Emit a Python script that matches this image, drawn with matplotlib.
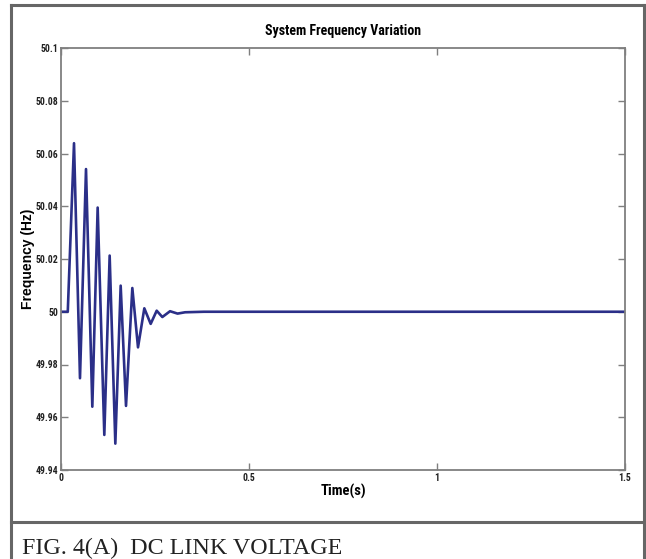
import matplotlib
matplotlib.use("Agg")
import matplotlib.pyplot as plt
from matplotlib.lines import Line2D
from matplotlib import font_manager

# Data (time in s, frequency in Hz)
time_s = [0.0, 0.018, 0.0346, 0.0505, 0.0665, 0.0833, 0.0975, 0.1152, 0.1294,
          0.1445, 0.1587, 0.1729, 0.1897, 0.2048, 0.2216, 0.2385, 0.2545,
          0.2695, 0.29, 0.31, 0.33, 0.38, 1.5]
freq_hz = [50.0, 50.0, 50.0639, 49.9748, 50.0541, 49.964, 50.0395, 49.9533,
           50.0213, 49.950, 50.0099, 49.9643, 50.009, 49.9865, 50.0013,
           49.9954, 50.0004, 49.998, 50.0002, 49.9993, 49.9998, 50.0, 50.0]

x_ticks = [0, 0.5, 1, 1.5]
x_tick_labels = ["0", "0.5", "1", "1.5"]
y_ticks = [49.94, 49.96, 49.98, 50.0, 50.02, 50.04, 50.06, 50.08, 50.1]
y_tick_labels = ["49.94", "49.96", "49.98", "50", "50.02", "50.04", "50.06", "50.08", "50.1"]

title = "System Frequency Variation"
x_label = "Time(s)"
y_label = "Frequency (Hz)"
caption = "FIG. 4(A)  DC LINK VOLTAGE"

# look for a narrow / condensed sans family if one is installed
names = sorted({f.name for f in font_manager.fontManager.ttflist})
narrow_name = None
for cand in ["Liberation Sans Narrow", "Arial Narrow", "DejaVu Sans Condensed",
             "Roboto Condensed", "Open Sans Condensed", "Noto Sans Condensed"]:
    if cand in names:
        narrow_name = cand
        break
if narrow_name is None:
    for n in names:
        if ("Narrow" in n or "Condensed" in n) and "Serif" not in n and "Mono" not in n:
            narrow_name = n
            break
has_narrow = narrow_name is not None
narrow = [narrow_name, "Liberation Sans", "DejaVu Sans"] if has_narrow else ["Liberation Sans", "DejaVu Sans"]
tick_fs = 7.0 if has_narrow else 6.3
title_fs = 10.0 if has_narrow else 9.0

W, H = 646, 559
fig = plt.figure(figsize=(W / 100, H / 100), dpi=100)

ax = fig.add_axes([61 / W, 1 - 470 / H, (625 - 61) / W, (470 - 48) / H])
ax.plot(time_s, freq_hz, color="#2b2f88", lw=1.9, solid_joinstyle="round")
ax.set_xlim(0, 1.5)
ax.set_ylim(49.94, 50.1)
ax.set_xticks(x_ticks)
ax.set_xticklabels(x_tick_labels)
ax.set_yticks(y_ticks)
ax.set_yticklabels(y_tick_labels)
for s in ax.spines.values():
    s.set_color("#7f7f7f")
    s.set_linewidth(1.3)
ax.tick_params(direction="in", length=5, width=1, color="#7f7f7f",
               top=True, right=True, pad=2)
for lab in ax.get_xticklabels() + ax.get_yticklabels():
    lab.set_fontfamily(narrow)
    lab.set_fontweight("bold")
    lab.set_fontsize(tick_fs)
    lab.set_color("#222222")

ax.set_title(title, fontfamily=narrow, fontweight="bold", fontsize=title_fs, pad=9)
ax.set_xlabel(x_label, fontfamily=narrow, fontweight="bold",
              fontsize=(10.5 if has_narrow else 9))
ax.xaxis.set_label_coords(0.5, -(491 - 470) / 422, transform=ax.transAxes)
ax.set_ylabel(y_label, fontfamily=["Liberation Sans", "DejaVu Sans"],
              fontweight="bold", fontsize=10)
ax.yaxis.set_label_coords(-(61 - 28) / 564, 0.5)
ax.xaxis.label.set_va("center")
ax.yaxis.label.set_va("center")

# outer frame and caption separator
def fx(px):
    return px / W

def fy(py):
    return 1 - py / H

frame_kw = dict(color="#666666", lw=2.2, transform=fig.transFigure)
fig.add_artist(Line2D([fx(11), fx(11)], [fy(5), fy(559)], **frame_kw))
fig.add_artist(Line2D([fx(644), fx(644)], [fy(5), fy(559)], **frame_kw))
fig.add_artist(Line2D([fx(11), fx(644)], [fy(5), fy(5)], **frame_kw))
fig.add_artist(Line2D([fx(11), fx(644)], [fy(522), fy(522)], **frame_kw))

fig.text(fx(22), fy(554), caption, fontfamily=["Liberation Serif", "DejaVu Serif"],
         fontsize=17.3, va="baseline", ha="left", color="#222222")

fig.savefig("out.png", dpi=100, facecolor="white")
